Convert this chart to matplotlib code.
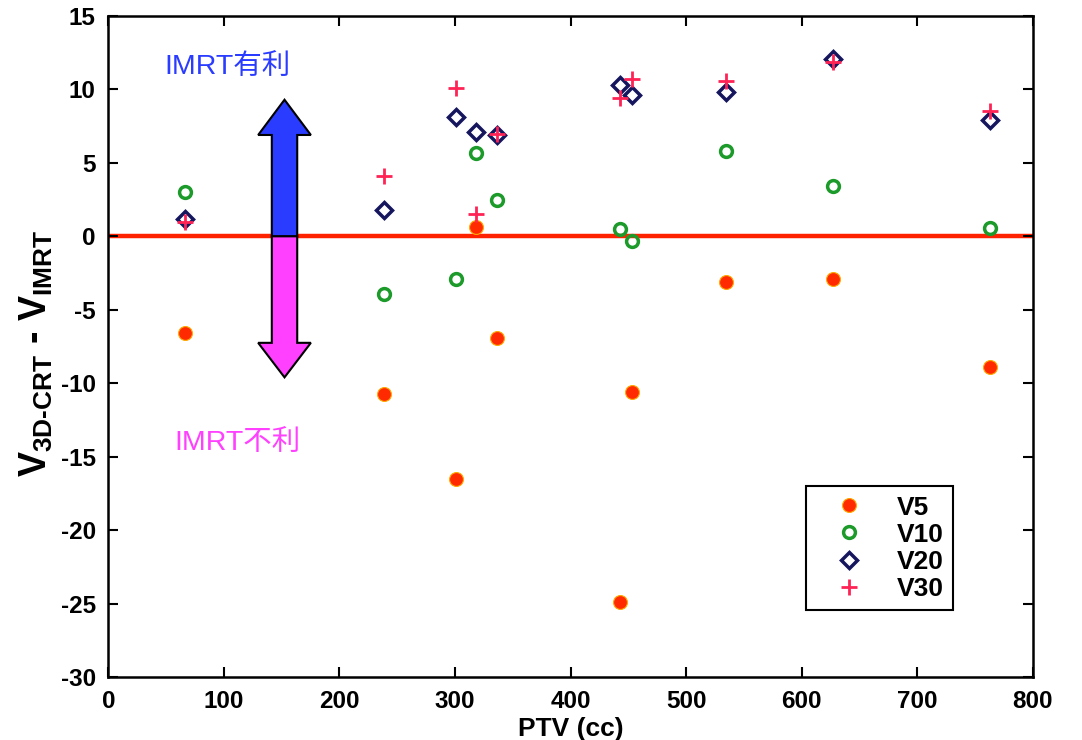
import matplotlib
matplotlib.use("Agg")
import matplotlib.pyplot as plt
from matplotlib.patches import FancyArrow

plt.rcParams['font.family'] = ['Liberation Sans', 'Noto Sans CJK JP', 'DejaVu Sans']
plt.rcParams['mathtext.fontset'] = 'custom'
plt.rcParams['mathtext.rm'] = 'Liberation Sans:bold'
plt.rcParams['mathtext.bf'] = 'Liberation Sans:bold'
plt.rcParams['mathtext.it'] = 'Liberation Sans:bold'
plt.rcParams['axes.unicode_minus'] = False

# ---- data ----
ptv = [66, 239, 301, 318, 336, 443, 453, 535, 627, 763]
v5 = [-6.6, -10.7, -16.5, 0.65, -6.9, -24.9, -10.6, -3.1, -2.9, -8.9]
v10 = [3.0, -3.9, -2.9, 5.7, 2.5, 0.5, -0.3, 5.8, 3.4, 0.6]
v20 = [1.2, 1.8, 8.1, 7.1, 6.9, 10.3, 9.6, 9.8, 12.1, 7.9]
v30 = [1.0, 4.1, 10.1, 1.5, 7.0, 9.4, 10.7, 10.6, 11.9, 8.5]
series_names = ['V5', 'V10', 'V20', 'V30']
xticks = [0, 100, 200, 300, 400, 500, 600, 700, 800]
yticks = [-30, -25, -20, -15, -10, -5, 0, 5, 10, 15]

fig = plt.figure(figsize=(10.82, 7.40), dpi=100)
ax = fig.add_axes([108.3 / 1082, 1 - 677 / 740, (1032.7 - 108.3) / 1082, (677 - 16) / 740])

ax.axhline(0, color='#ff2200', lw=3.2, zorder=1)

# arrows
ax.add_patch(FancyArrow(152.5, 0, 0, 9.3, width=22, head_width=45.6, head_length=2.4,
                        length_includes_head=True, facecolor='#2a3cff', edgecolor='black',
                        lw=1.5, zorder=3))
ax.add_patch(FancyArrow(152.5, 0, 0, -9.6, width=22, head_width=45.6, head_length=2.35,
                        length_includes_head=True, facecolor='#ff40ff', edgecolor='black',
                        lw=1.5, zorder=3))
ax.text(103, 11.55, 'IMRT有利', color='#2a3cff', fontsize=20.5, ha='center', va='center',
        family=['Liberation Sans', 'Noto Sans CJK JP'])
ax.text(112, -14.1, 'IMRT不利', color='#ff40ff', fontsize=20.5, ha='center', va='center',
        family=['Liberation Sans', 'Noto Sans CJK JP'])

ax.plot(ptv, v5, linestyle='none', marker='o', markersize=10, markerfacecolor='#ff2a00',
        markeredgecolor='#ffaa00', markeredgewidth=0.8, label=series_names[0], zorder=4)
ax.plot(ptv, v10, linestyle='none', marker='o', markersize=8.5, markerfacecolor='none',
        markeredgecolor='#1c9a2a', markeredgewidth=2.5, label=series_names[1], zorder=4)
ax.plot(ptv, v20, linestyle='none', marker='D', markersize=8, markerfacecolor='none',
        markeredgecolor='#16165e', markeredgewidth=2.5, label=series_names[2], zorder=5)
ax.plot(ptv, v30, linestyle='none', marker='+', markersize=11, markerfacecolor='none',
        markeredgecolor='#ff2255', markeredgewidth=2.0, label=series_names[3], zorder=6)

ax.set_xlim(0, 800)
ax.set_ylim(-30, 15)
ax.set_xticks(xticks)
ax.set_yticks(yticks)
ax.tick_params(direction='in', length=7, width=1.5, top=True, right=True,
               labelsize=17.5, pad=9)
for lab in ax.get_xticklabels() + ax.get_yticklabels():
    lab.set_fontweight('bold')
for s in ax.spines.values():
    s.set_linewidth(1.8)

ax.set_xlabel('PTV (cc)', fontsize=19, fontweight='bold', labelpad=3)
ax.set_ylabel(r'$\mathbf{V_{3D\text{-}CRT}}\text{ - }\mathbf{V_{IMRT}}$', fontsize=27)
ax.yaxis.set_label_coords(-0.058, 0.49)

leg = ax.legend(loc='lower right', bbox_to_anchor=(0.914, 0.101), fancybox=False,
                edgecolor='black', framealpha=1, prop={'weight': 'bold', 'size': 19},
                handlelength=2.6, handletextpad=0.5, borderpad=0.35, labelspacing=0.12,
                borderaxespad=0)
leg.get_frame().set_linewidth(1.5)

fig.savefig('out.png', dpi=100)
